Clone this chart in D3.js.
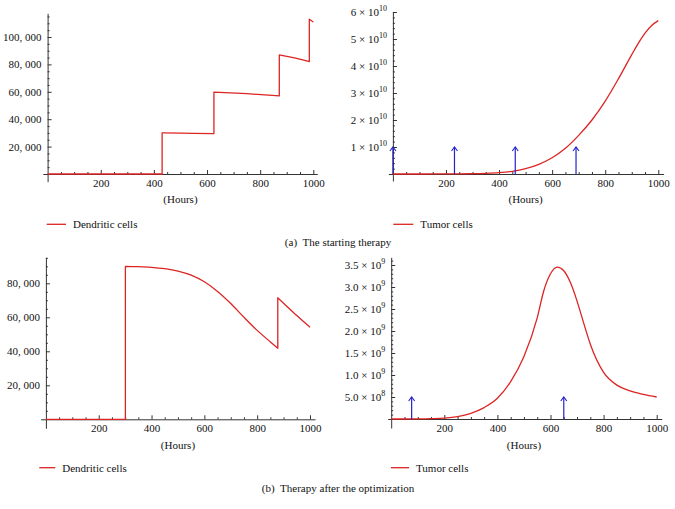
<!DOCTYPE html>
<html>
<head>
<meta charset="utf-8">
<script src="https://cdn.jsdelivr.net/npm/d3@7/dist/d3.min.js"></script>
<style>
  html, body { margin: 0; padding: 0; background: #fff; }
  svg { display: block; }
  text { font-family: "Liberation Serif", "Times New Roman", serif; fill: #111; }
</style>
</head>
<body>
<svg id="chart" width="675" height="509"></svg>
<script>
// ---------------- DATA ----------------
const xTickValues = [200, 400, 600, 800, 1000];
const xAxisTitle = "(Hours)";

// (a) starting therapy — dendritic cells (jumps at injection times)
const dcStartT = [0, 431, 431, 500, 626, 626, 750, 872, 872, 930, 985, 985, 1000];
const dcStartV = [0, 0, 30000, 29800, 29500, 59800, 58600, 57000, 87000, 84700, 82000, 113000, 111000];
const dcStartYTicks = [20000, 40000, 60000, 80000, 100000];
const dcStartYLabels = ["20, 000", "40, 000", "60, 000", "80, 000", "100, 000"];

// (a) starting therapy — tumor cells
const tumorStartT = [0, 50, 100, 150, 200, 250, 300, 350, 400, 450, 500, 550, 600, 650, 700, 750, 800, 850, 900, 925, 950, 975, 1000];
const tumorStartV = [0, 0, 0, 1e7, 2e7, 5e7, 1.2e8, 2.5e8, 5e8, 1.0e9, 2.0e9, 3.6e9, 6.0e9, 9.5e9, 1.43e10, 2.0e10, 2.7e10, 3.53e10, 4.42e10, 4.85e10, 5.22e10, 5.5e10, 5.68e10];
const tumorStartYTicks = [1e10, 2e10, 3e10, 4e10, 5e10, 6e10];
const tumorStartYMant = ["1", "2", "3", "4", "5", "6"];
const tumorStartYExp = ["10", "10", "10", "10", "10", "10"];
const doseStartT = [0, 232, 461, 690];
const doseStartLevel = 1e10;

// (b) after optimization — dendritic cells
const dcOptT = [0, 301, 301, 350, 400, 450, 500, 550, 600, 650, 700, 750, 800, 850, 878, 878, 900, 950, 1000];
const dcOptV = [0, 0, 90000, 89800, 89400, 88600, 87200, 84800, 80900, 75200, 68100, 60000, 52300, 45500, 41800, 71500, 68300, 61000, 54100];
const dcOptYTicks = [20000, 40000, 60000, 80000];
const dcOptYLabels = ["20, 000", "40, 000", "60, 000", "80, 000"];

// (b) after optimization — tumor cells
const tumorOptT = [0, 50, 100, 150, 200, 250, 300, 350, 400, 450, 500, 550, 575, 600, 625, 650, 675, 700, 725, 750, 800, 850, 900, 950, 1000];
const tumorOptV = [0, 0, 2e6, 8e6, 2e7, 5.5e7, 1.3e8, 2.6e8, 4.7e8, 8.5e8, 1.42e9, 2.3e9, 2.92e9, 3.3e9, 3.45e9, 3.37e9, 3.1e9, 2.68e9, 2.18e9, 1.7e9, 1.06e9, 7.7e8, 6.4e8, 5.6e8, 5.0e8];
const tumorOptYTicks = [5e8, 1e9, 1.5e9, 2e9, 2.5e9, 3e9, 3.5e9];
const tumorOptYMant = ["5.0", "1.0", "1.5", "2.0", "2.5", "3.0", "3.5"];
const tumorOptYExp = ["8", "9", "9", "9", "9", "9", "9"];
const doseOptT = [77, 650];
const doseOptLevel = 5e8;

const legendDC = "Dendritic cells";
const legendTumor = "Tumor cells";
const captionA = "(a)\u2002The starting therapy";
const captionB = "(b)\u2002Therapy after the optimization";

// ---------------- DRAW ----------------
const RED = "#dd2424";
const BLUE = "#2323c8";
const AXIS = "#333";
const svg = d3.select("#chart");

function mapScale(d0, d1, p0, p1, ext) {
  const f = v => p0 + (v - d0) * (p1 - p0) / (d1 - d0);
  return d3.scaleLinear().domain(ext).range(ext.map(f));
}

function drawPanel(cfg) {
  const x = mapScale(0, 1000, cfg.xp[0], cfg.xp[1], cfg.xExt);
  const y = mapScale(0, cfg.yRef, cfg.yp[0], cfg.yp[1], cfg.yExt);
  const g = svg.append("g");

  // x axis (origin at y=0)
  const gx = g.append("g").attr("transform", `translate(0,${y(0)})`);
  gx.call(d3.axisBottom(x).tickValues(xTickValues).tickSizeInner(-4).tickSizeOuter(0).tickPadding(5).tickFormat(d3.format("d")));
  const minorX = d3.range(0, 1001, 50).filter(v => v % 200 !== 0);
  const gxm = g.append("g").attr("transform", `translate(0,${y(0)})`);
  gxm.call(d3.axisBottom(x).tickValues(minorX).tickSizeInner(-2).tickSizeOuter(0).tickFormat(""));
  gxm.select(".domain").remove();

  // y axis (at x=0)
  const gy = g.append("g").attr("transform", `translate(${x(0)},0)`);
  gy.call(d3.axisLeft(y).tickValues(cfg.yTicks).tickSizeInner(-4).tickSizeOuter(0).tickPadding(6).tickFormat(() => ""));
  const gym = g.append("g").attr("transform", `translate(${x(0)},0)`);
  const minorY = d3.range(cfg.yMinorStep, cfg.yExt[1], cfg.yMinorStep).filter(v => !cfg.yTicks.some(t => Math.abs(t - v) < cfg.yMinorStep * 0.01));
  gym.call(d3.axisLeft(y).tickValues(minorY).tickSizeInner(-2).tickSizeOuter(0).tickFormat(""));
  gym.select(".domain").remove();

  [gx, gxm, gy, gym].forEach(a => {
    a.attr("font-family", null).attr("font-size", null);
    a.selectAll("path, line").attr("stroke", AXIS).attr("stroke-width", 1);
  });
  gx.selectAll("text").attr("font-size", 11).attr("fill", "#111");

  gy.selectAll(".tick text").each(function(d, i) {
    const t = d3.select(this).attr("font-size", 11).attr("fill", "#111");
    if (cfg.yLabels) {
      t.text(cfg.yLabels[i]);
    } else {
      t.append("tspan").text(cfg.yMant[i] + " \u00d7 10");
      t.append("tspan").attr("font-size", 8).attr("dy", -5).text(cfg.yExp[i]);
    }
  });

  // curve: split into smooth segments at vertical jumps
  const segs = [];
  let cur = [];
  cfg.T.forEach((t, i) => {
    if (i > 0 && t === cfg.T[i - 1]) { segs.push(cur); cur = []; }
    cur.push([t, cfg.V[i]]);
  });
  segs.push(cur);
  const line = d3.line().x(d => x(d[0])).y(d => y(d[1])).curve(d3.curveMonotoneX);
  const dStr = segs.map((s, i) => {
    const p = line(s);
    return i === 0 ? p : "L" + p.slice(1);
  }).join("");
  g.append("path").attr("d", dStr).attr("fill", "none").attr("stroke", RED).attr("stroke-width", 1.3).attr("stroke-linejoin", "round");

  // dose arrows
  if (cfg.doses) {
    cfg.doses.forEach(t => {
      const px = x(t), top = y(cfg.doseLevel), bot = y(0);
      g.append("line").attr("x1", px).attr("x2", px).attr("y1", bot).attr("y2", top)
        .attr("stroke", BLUE).attr("stroke-width", 1.2);
      g.append("path").attr("d", `M${px - 3},${top + 4}L${px},${top}L${px + 3},${top + 4}`)
        .attr("fill", "none").attr("stroke", BLUE).attr("stroke-width", 1.1);
    });
  }

  // x axis title
  g.append("text").attr("x", (x(0) + x(1000)) / 2).attr("y", cfg.titleY)
    .attr("text-anchor", "middle").attr("font-size", 11).text(xAxisTitle);

  // legend
  g.append("line").attr("x1", cfg.legX).attr("x2", cfg.legX + cfg.legLen)
    .attr("y1", cfg.legY).attr("y2", cfg.legY).attr("stroke", RED).attr("stroke-width", 1.3);
  g.append("text").attr("x", cfg.legX + cfg.legLen + 7).attr("y", cfg.legY + 3.8)
    .attr("font-size", 11).text(cfg.legend);
}

drawPanel({
  T: dcStartT, V: dcStartV,
  xp: [47.6, 313.3], xExt: [-18, 1015],
  yRef: 100000, yp: [174, 37], yExt: [-5600, 117300],
  yTicks: dcStartYTicks, yLabels: dcStartYLabels, yMinorStep: 5000,
  titleY: 203, legX: 46.7, legY: 224.3, legLen: 19.3, legend: legendDC
});
drawPanel({
  T: tumorStartT, V: tumorStartV,
  xp: [392.9, 658.3], xExt: [-17, 1020],
  yRef: 6e10, yp: [174, 12], yExt: [-2.6e9, 6e10],
  yTicks: tumorStartYTicks, yMant: tumorStartYMant, yExp: tumorStartYExp, yMinorStep: 2e9,
  doses: doseStartT, doseLevel: doseStartLevel,
  titleY: 203, legX: 393.3, legY: 224.3, legLen: 20, legend: legendTumor
});
drawPanel({
  T: dcOptT, V: dcOptV,
  xp: [45.9, 310], xExt: [-20, 1019],
  yRef: 80000, yp: [419.3, 283.3], yExt: [-5300, 95300],
  yTicks: dcOptYTicks, yLabels: dcOptYLabels, yMinorStep: 5000,
  titleY: 449, legX: 39.3, legY: 467.7, legLen: 16, legend: legendDC
});
drawPanel({
  T: tumorOptT, V: tumorOptV,
  xp: [391.2, 656.7], xExt: [-13, 1019],
  yRef: 3.5e9, yp: [419, 265], yExt: [-2.05e8, 3.675e9],
  yTicks: tumorOptYTicks, yMant: tumorOptYMant, yExp: tumorOptYExp, yMinorStep: 1e8,
  doses: doseOptT, doseLevel: doseOptLevel,
  titleY: 449, legX: 391, legY: 467.7, legLen: 18, legend: legendTumor
});

// captions
svg.append("text").attr("x", 338).attr("y", 245.5).attr("text-anchor", "middle").attr("font-size", 11).text(captionA);
svg.append("text").attr("x", 338).attr("y", 491.5).attr("text-anchor", "middle").attr("font-size", 11).text(captionB);
</script>
</body>
</html>
